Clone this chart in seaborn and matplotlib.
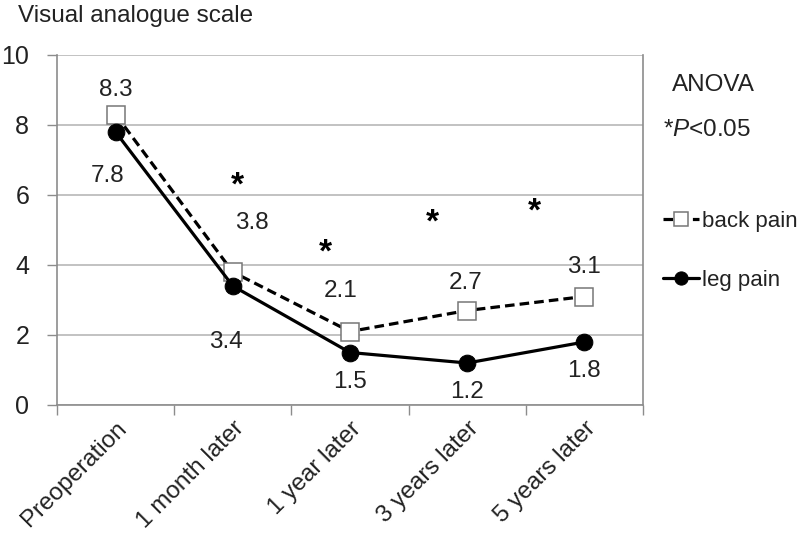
import numpy as np
import pandas as pd
import matplotlib
matplotlib.use("Agg")
import matplotlib.pyplot as plt
from matplotlib.ticker import FixedLocator
import seaborn as sns

categories = ["Preoperation", "1 month later", "1 year later", "3 years later", "5 years later"]
back_pain = [8.3, 3.8, 2.1, 2.7, 3.1]
leg_pain = [7.8, 3.4, 1.5, 1.2, 1.8]

# label offsets (points) for the data labels, placed by hand like in the original
back_offsets = [(0, 18), (14, 35), (-7, 29), (-1, 20), (0, 21)]
leg_offsets = [(-6, -32), (-5, -40), (0, -21), (0, -21), (0, -21)]

# significance stars (x position between categories, y value)
star_x = [1.04, 1.79, 2.70, 3.57]
star_y = [6.25, 4.35, 5.2, 5.5]

sns.set_theme(style="white")
plt.rcParams["font.family"] = ["Liberation Sans", "DejaVu Sans"]
plt.rcParams["mathtext.fontset"] = "custom"
plt.rcParams["mathtext.rm"] = "Liberation Sans"
plt.rcParams["mathtext.it"] = "Liberation Sans:italic"

txt = "#222222"
grid = "#b8b8b8"
axc = "#8c8c8c"
fs = 17.5

fig = plt.figure(figsize=(8, 5.38), dpi=100)
ax = fig.add_axes([57 / 800, 1 - 405 / 538, (643 - 57) / 800, 350 / 538])

pos = np.arange(len(categories))
df = pd.DataFrame({"pos": np.concatenate([pos, pos]),
                   "score": back_pain + leg_pain,
                   "pain": ["back pain"] * 5 + ["leg pain"] * 5})

sns.lineplot(data=df[df.pain == "back pain"], x="pos", y="score", ax=ax,
             color="black", linewidth=2.3, linestyle=(0, (3, 1.6)),
             marker="s", markersize=13, markerfacecolor="white",
             markeredgecolor="#777777", markeredgewidth=1.1,
             label="back pain", zorder=3)
sns.lineplot(data=df[df.pain == "leg pain"], x="pos", y="score", ax=ax,
             color="black", linewidth=2.3, marker="o", markersize=12,
             markerfacecolor="black", markeredgecolor="black",
             label="leg pain", zorder=4)

for i, v in enumerate(back_pain):
    ax.annotate(f"{v:.1f}", (pos[i], v), xytext=back_offsets[i], textcoords="offset points",
                ha="center", va="center", fontsize=fs, color=txt)
for i, v in enumerate(leg_pain):
    ax.annotate(f"{v:.1f}", (pos[i], v), xytext=leg_offsets[i], textcoords="offset points",
                ha="center", va="center", fontsize=fs, color=txt)
for sx, sy in zip(star_x, star_y):
    ax.text(sx, sy, "*", ha="center", va="center", fontsize=24, fontweight="bold", color="black")

ax.set_xlim(-0.5, len(categories) - 0.5)
ax.set_ylim(0, 10)
ax.set_yticks([0, 2, 4, 6, 8, 10])
ax.set_yticklabels(["0", "2", "4", "6", "8", "10"])
ax.yaxis.grid(True, color=grid, linewidth=1.2)
ax.xaxis.grid(False)
ax.set_xticks(pos)
ax.set_xticklabels(categories, rotation=45, ha="right", rotation_mode="anchor")
ax.xaxis.set_minor_locator(FixedLocator(np.arange(-0.5, len(categories), 1.0)))
ax.tick_params(axis="x", which="major", length=0, pad=9, labelsize=fs, labelcolor=txt)
ax.tick_params(axis="x", which="minor", length=7, width=1, color=axc, bottom=True)
ax.tick_params(axis="y", left=True, length=7, width=1, color=axc, pad=13, labelsize=18, labelcolor=txt)
ax.set_xlabel("")
ax.set_ylabel("")
for side in ["left", "bottom", "right"]:
    ax.spines[side].set_color(axc)
    ax.spines[side].set_linewidth(1.2)
ax.spines["top"].set_visible(False)

leg = ax.legend(loc="upper left", bbox_to_anchor=(652 / 800, 1 - 200 / 538),
                bbox_transform=fig.transFigure, frameon=False, fontsize=16,
                handlelength=1.6, handletextpad=0.15, labelspacing=1.7, borderpad=0)
for t in leg.get_texts():
    t.set_color(txt)
for h in leg.legend_handles:
    h.set_markersize(9.5)

fig.text(18 / 800, 1 - 16 / 538, "Visual analogue scale", fontsize=fs, color=txt, ha="left", va="center")
fig.text(713 / 800, 1 - 85 / 538, "ANOVA", fontsize=fs, color=txt, ha="center", va="center")
fig.text(663 / 800, 1 - 130 / 538, "*$P$<0.05", fontsize=fs, color=txt, ha="left", va="center")

fig.savefig("out.png", dpi=100)
